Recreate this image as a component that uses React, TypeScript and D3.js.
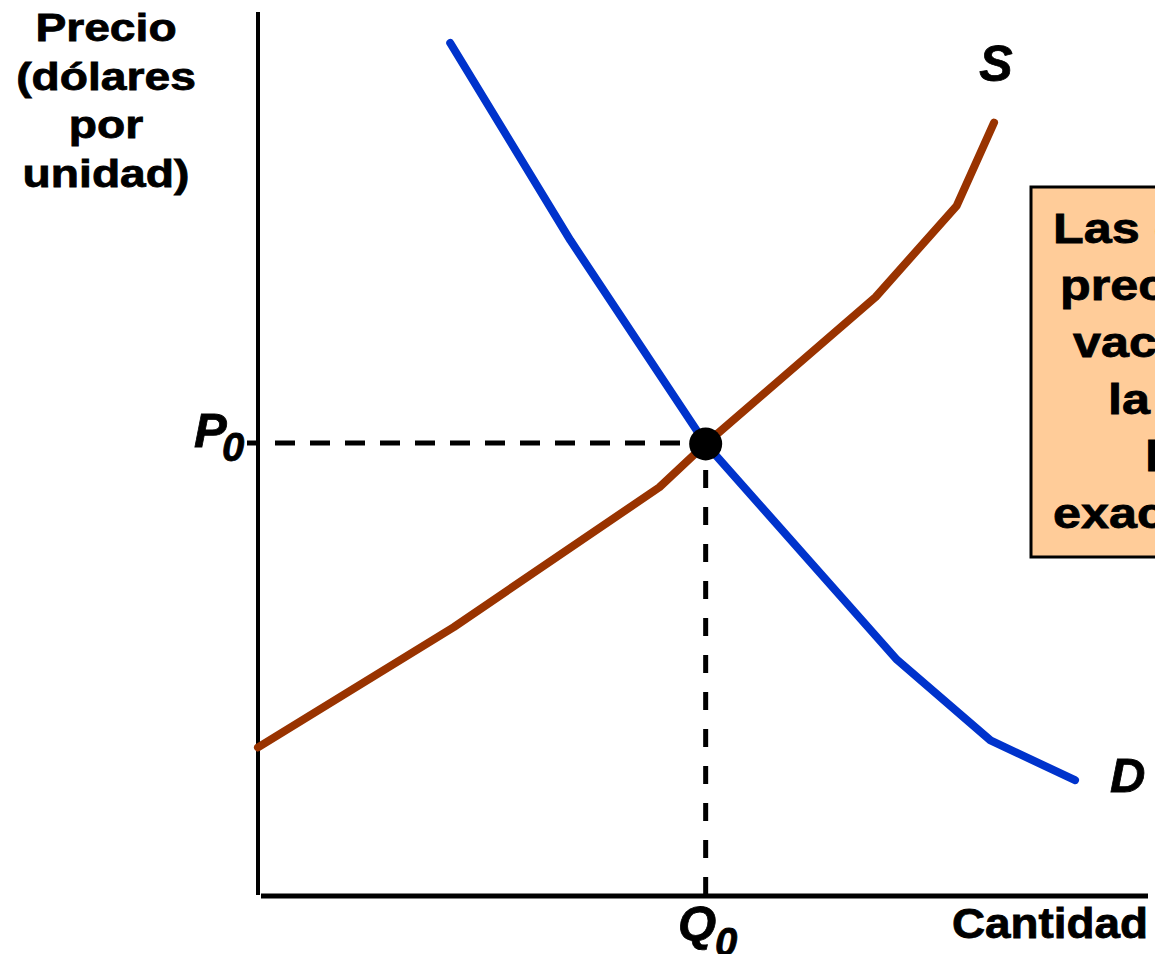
import React from "react";
import * as d3 from "d3";

// ---- data (quantity, price) in abstract units ----
const demandQ = [2.16, 3.51, 5.03, 7.18, 8.23, 9.18];
const demandP = [9.65, 7.42, 5.12, 2.68, 1.77, 1.32];
const supplyQ = [0.0, 2.2, 4.51, 5.03, 6.94, 7.85, 8.27];
const supplyP = [1.69, 3.05, 4.63, 5.12, 6.78, 7.81, 8.75];
const equilibriumQ = 5.03;
const equilibriumP = 5.12;
const yTitleLines = ["Precio", "(dólares", "por", "unidad)"];
const xTitle = "Cantidad";
const boxLines = [
  "Las curvas se cortan en el",
  "precio de equilibrio o que",
  "vacía el mercado. En P0,",
  "la cantidad ofrecida y",
  "la demandada son",
  "exactamente iguales (Q0).",
];

const W = 1155;
const H = 954;
const FONT = "'Liberation Sans', Arial, Helvetica, sans-serif";

export default function App() {
  const x = d3.scaleLinear().domain([0, 10]).range([258, 1148]);
  const y = d3.scaleLinear().domain([0, 10]).range([897, 12]);

  const line = d3
    .line<[number, number]>()
    .x((d) => x(d[0]))
    .y((d) => y(d[1]));

  const demand = demandQ.map((q, i) => [q, demandP[i]] as [number, number]);
  const supply = supplyQ.map((q, i) => [q, supplyP[i]] as [number, number]);

  const ex = x(equilibriumQ);
  const ey = y(equilibriumP);

  const boxStarts = [1053, 1060, 1073, 1108, 1145, 1053];
  const yTitleBase = [41, 90, 138, 187];
  const heavy = { stroke: "#000", strokeWidth: 0.8 };

  return (
    <svg
      width={W}
      height={H}
      style={{ position: "absolute", left: 0, top: 0, background: "#fff" }}
      fontFamily={FONT}
    >
      {/* axes */}
      <line x1={x(0)} y1={12} x2={x(0)} y2={895} stroke="#000" strokeWidth={4} />
      <line x1={261} y1={y(0) - 1} x2={x(10)} y2={y(0) - 1} stroke="#000" strokeWidth={5} />

      {/* dashed guide lines */}
      <line
        x1={240}
        y1={ey - 1}
        x2={ex}
        y2={ey - 1}
        stroke="#000"
        strokeWidth={5}
        strokeDasharray="20,15"
      />
      <line
        x1={ex}
        y1={433}
        x2={ex}
        y2={y(0) - 2}
        stroke="#000"
        strokeWidth={5}
        strokeDasharray="18,19"
      />
      <rect x={238} y={ey - 5} width={9} height={10} fill="#fff" />

      {/* curves */}
      <path
        d={line(supply) ?? ""}
        fill="none"
        stroke="#993300"
        strokeWidth={8}
        strokeLinecap="round"
        strokeLinejoin="round"
      />
      <path
        d={line(demand) ?? ""}
        fill="none"
        stroke="#0033CC"
        strokeWidth={8}
        strokeLinecap="round"
        strokeLinejoin="round"
      />

      {/* equilibrium point */}
      <circle cx={ex} cy={ey} r={16.5} fill="#000" />

      {/* y-axis title */}
      {yTitleLines.map((t, i) => (
        <text
          key={t}
          transform={`translate(106,${yTitleBase[i]}) scale(1.17,1)`}
          textAnchor="middle"
          fontSize={39.5}
          fontWeight="bold"
          {...heavy}
        >
          {t}
        </text>
      ))}

      {/* x-axis title */}
      <text
        x={1148}
        y={938}
        textAnchor="end"
        fontSize={42}
        fontWeight="bold"
        textLength={196}
        lengthAdjust="spacingAndGlyphs"
        {...heavy}
      >
        {xTitle}
      </text>

      {/* P0 */}
      <text x={194} y={447} fontSize={49} fontWeight="bold" fontStyle="italic" {...heavy}>
        P
      </text>
      <text x={222} y={461} fontSize={40} fontWeight="bold" fontStyle="italic" {...heavy}>
        0
      </text>

      {/* Q0 */}
      <text x={678} y={940} fontSize={49} fontWeight="bold" fontStyle="italic" {...heavy}>
        Q
      </text>
      <text x={715} y={956} fontSize={40} fontWeight="bold" fontStyle="italic" {...heavy}>
        0
      </text>

      {/* curve labels */}
      <text x={996} y={81} textAnchor="middle" fontSize={50} fontWeight="bold" fontStyle="italic" {...heavy}>
        S
      </text>
      <text x={1110} y={792} fontSize={49} fontWeight="bold" fontStyle="italic" {...heavy}>
        D
      </text>

      {/* annotation box */}
      <rect x={1031} y={187} width={300} height={370} fill="#FFCC99" stroke="#000" strokeWidth={3} />
      {boxLines.map((t, i) => (
        <text
          key={i}
          transform={`translate(${boxStarts[i]},${243 + i * 57}) scale(1.17,1)`}
          fontSize={43}
          fontWeight="bold"
          {...heavy}
        >
          {t}
        </text>
      ))}
    </svg>
  );
}
